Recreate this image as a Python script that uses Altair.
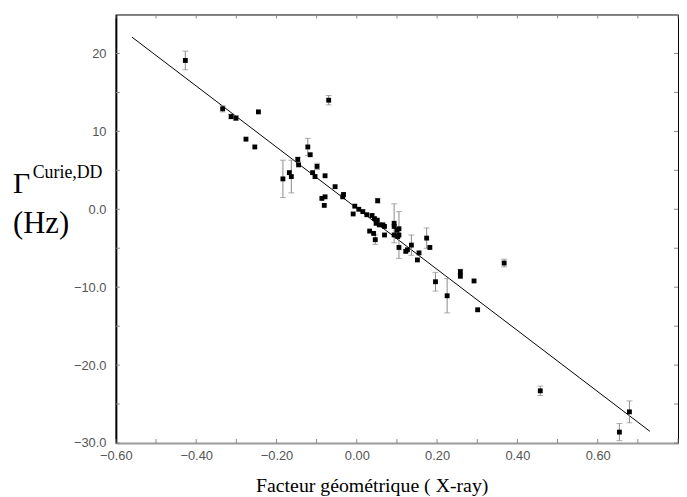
import altair as alt
import pandas as pd

# ---- data ----
x_vals = [-0.427, -0.334, -0.313, -0.301, -0.245, -0.276, -0.254, -0.070, -0.122, -0.116,
          -0.147, -0.145, -0.184, -0.168, -0.163, -0.110, -0.104, -0.099, -0.079, -0.054,
          -0.033, -0.035, -0.087, -0.079, -0.081, 0.052, -0.005, 0.005, 0.015, 0.025,
          -0.009, 0.038, 0.044, 0.051, 0.048, 0.056, 0.065, 0.069, 0.032, 0.042,
          0.046, 0.069, 0.093, 0.093, 0.100, 0.105, 0.093, 0.102, 0.105, 0.105,
          0.136, 0.126, 0.122, 0.155, 0.151, 0.174, 0.182, 0.196, 0.225, 0.258,
          0.258, 0.292, 0.301, 0.367, 0.457, 0.679, 0.654]
y_vals = [19.1, 12.9, 11.9, 11.7, 12.5, 9.0, 8.0, 14.0, 8.0, 7.0,
          6.4, 5.7, 3.9, 4.7, 4.2, 4.7, 4.2, 5.5, 4.3, 2.9,
          1.9, 1.6, 1.4, 1.6, 0.5, 1.1, 0.4, 0.0, -0.3, -0.7,
          -0.6, -0.8, -1.2, -1.4, -1.8, -2.0, -2.0, -2.2, -2.8, -3.1,
          -3.9, -3.3, -1.8, -2.2, -2.7, -2.5, -3.3, -3.5, -4.9, -3.3,
          -4.6, -5.2, -5.4, -5.6, -6.5, -3.7, -4.9, -9.3, -11.1, -8.0,
          -8.6, -9.2, -12.9, -6.9, -23.3, -26.0, -28.6]
y_err = [1.2, 0.4, 0.3, 0.3, 0, 0, 0, 0.6, 1.1, 0,
         0.3, 0, 2.4, 0, 2.1, 0, 0, 0.4, 0, 0,
         0, 0, 0, 0, 0, 0.3, 0, 0, 0, 0,
         0, 0, 0, 0, 0, 0, 0, 0, 0, 0,
         0.6, 0, 2.5, 0, 0, 0, 0, 0, 0, 3.0,
         1.3, 0, 0, 0, 0, 1.3, 0, 1.2, 2.2, 0.3,
         0, 0, 0, 0.5, 0.6, 1.4, 1.1]

fit_x = [-0.56, 0.73]
fit_y = [22.1, -28.5]

x_label_vals = [-0.6, -0.4, -0.2, 0.0, 0.2, 0.4, 0.6]
y_label_vals = [-30, -20, -10, 0, 10, 20]
x_tick_vals = [-0.6, -0.5, -0.4, -0.3, -0.2, -0.1, 0.0, 0.1, 0.2, 0.3, 0.4, 0.5, 0.6, 0.7, 0.8]
y_tick_vals = [-30, -25, -20, -15, -10, -5, 0, 5, 10, 15, 20, 25]

x_title = "Facteur géométrique ( X-ray)"

W, H = 568, 433

df = pd.DataFrame({"x": x_vals, "y": y_vals, "e": y_err})
df["lo"] = df["y"] - df["e"]
df["hi"] = df["y"] + df["e"]
eb = df[df["e"] > 0].reset_index(drop=True)
fit = pd.DataFrame({"x": fit_x, "y": fit_y})
xt = pd.DataFrame({"x": x_tick_vals})
yt = pd.DataFrame({"y": y_tick_vals})

xs = alt.Scale(domain=[-0.6, 0.8], nice=False, zero=False)
ys = alt.Scale(domain=[-30, 25], nice=False, zero=False)

x_axis = alt.Axis(values=x_label_vals, format=".2f", title=None, ticks=False, grid=False,
                  labelFlush=False, labelOverlap=False, labelPadding=7,
                  domainColor="#9a9a9a", domainWidth=2)
y_axis = alt.Axis(values=y_label_vals, title=None, ticks=False, grid=False,
                  labelOverlap=False, labelPadding=10, domainColor="black", domainWidth=2,
                  labelExpr="datum.value == 20 ? '20' : datum.value == 10 ? '10' : format(datum.value, '.1f')")


def X(field):
    return alt.X(field, type="quantitative", scale=xs, axis=x_axis)


def Y(field):
    return alt.Y(field, type="quantitative", scale=ys, axis=y_axis)


line = alt.Chart(fit).mark_line(color="black", strokeWidth=1).encode(x=X("x"), y=Y("y"))

bars = alt.Chart(eb).mark_rule(color="#8a8a8a", strokeWidth=1).encode(
    x=X("x"), y=Y("lo"), y2="hi:Q")
cap_lo = alt.Chart(eb).mark_tick(color="#8a8a8a", orient="horizontal", size=6, thickness=1).encode(
    x=X("x"), y=Y("lo"))
cap_hi = alt.Chart(eb).mark_tick(color="#8a8a8a", orient="horizontal", size=6, thickness=1).encode(
    x=X("x"), y=Y("hi"))

pts = alt.Chart(df).mark_square(color="black", size=24, opacity=1).encode(x=X("x"), y=Y("y"))

tick_col = "#888888"
xt_bot = alt.Chart(xt).mark_rule(color=tick_col).encode(
    x=X("x"), y=alt.value(H), y2=alt.value(H - 4))
xt_top = alt.Chart(xt).mark_rule(color=tick_col).encode(
    x=X("x"), y=alt.value(0), y2=alt.value(4))
yt_left = alt.Chart(yt).mark_rule(color=tick_col).encode(
    y=Y("y"), x=alt.value(0), x2=alt.value(4))
yt_right = alt.Chart(yt).mark_rule(color=tick_col).encode(
    y=Y("y"), x=alt.value(W), x2=alt.value(W - 4))

serif = "Liberation Serif"
t_x = alt.Chart(pd.DataFrame({"t": [x_title]})).mark_text(
    font=serif, fontSize=20, color="black", align="center", baseline="alphabetic").encode(
    text="t:N", x=alt.value(259), y=alt.value(482))
t_g = alt.Chart(pd.DataFrame({"t": ["Γ"]})).mark_text(
    font=serif, fontSize=30, color="black", align="left", baseline="alphabetic").encode(
    text="t:N", x=alt.value(-104), y=alt.value(180))
t_sup = alt.Chart(pd.DataFrame({"t": ["Curie,DD"]})).mark_text(
    font=serif, fontSize=18, color="black", align="left", baseline="alphabetic").encode(
    text="t:N", x=alt.value(-84), y=alt.value(165))
t_hz = alt.Chart(pd.DataFrame({"t": ["(Hz)"]})).mark_text(
    font=serif, fontSize=31, color="black", align="left", baseline="alphabetic").encode(
    text="t:N", x=alt.value(-104), y=alt.value(221))

chart = alt.layer(
    line, xt_bot, xt_top, yt_left, yt_right, bars, cap_lo, cap_hi, pts,
    t_x, t_g, t_sup, t_hz
).properties(
    width=W, height=H,
    padding={"left": 5, "top": 3, "right": 0, "bottom": 0},
    background="white",
).configure_view(
    stroke="black", strokeWidth=1
).configure_axis(
    labelFont="Liberation Sans", labelFontSize=13, labelColor="#555555"
)

chart.save("out.html", embed_options={"renderer": "svg", "actions": False})
